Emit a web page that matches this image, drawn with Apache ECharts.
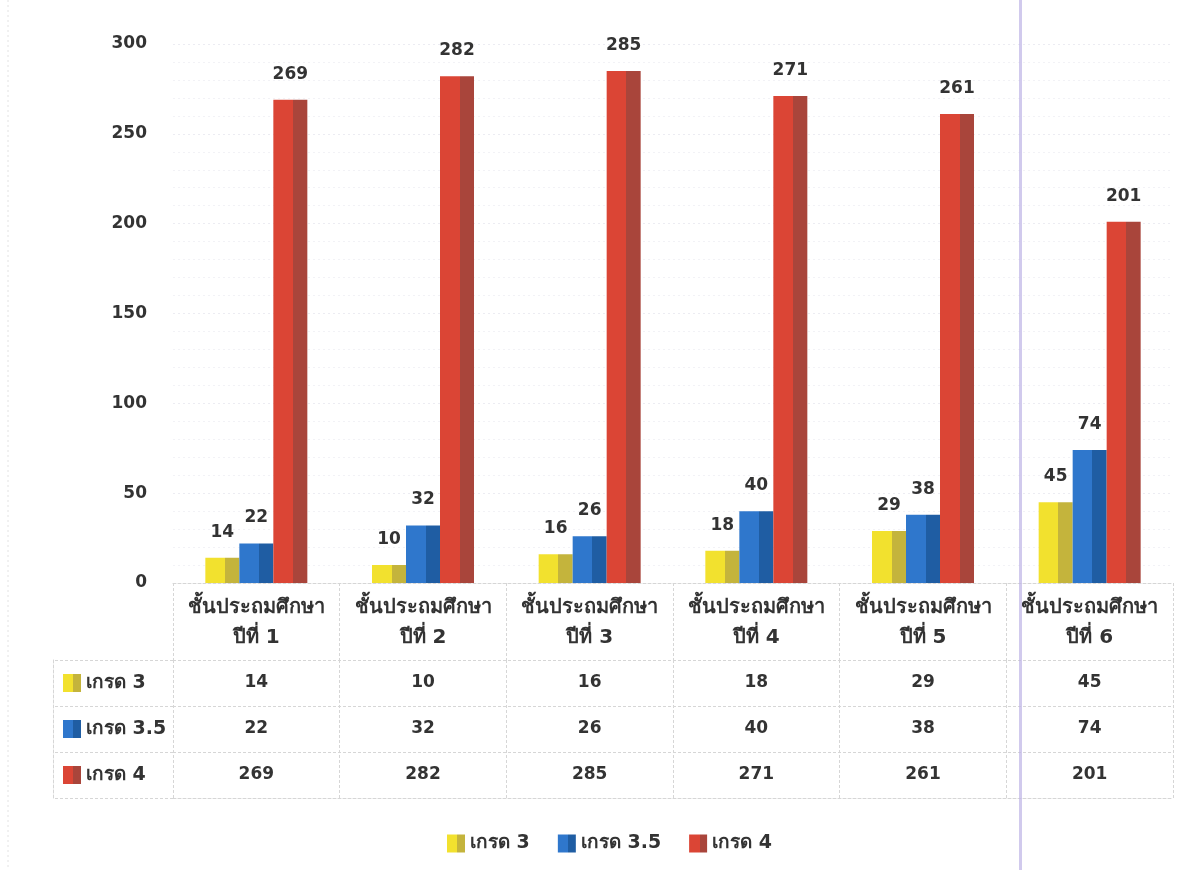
<!DOCTYPE html>
<html>
<head>
<meta charset="utf-8">
<title>grade chart</title>
<script src="https://cdn.jsdelivr.net/npm/echarts@6/dist/echarts.min.js"></script>
<style>
  html, body { margin: 0; padding: 0; background: #fff; }
  #main { width: 1191px; height: 870px; }
</style>
</head>
<body>
<div id="main"></div>
<script>
var categories = ['ชั้นประถมศึกษา\nปีที่ 1', 'ชั้นประถมศึกษา\nปีที่ 2', 'ชั้นประถมศึกษา\nปีที่ 3',
  'ชั้นประถมศึกษา\nปีที่ 4', 'ชั้นประถมศึกษา\nปีที่ 5', 'ชั้นประถมศึกษา\nปีที่ 6']
var seriesNames = ['เกรด 3', 'เกรด 3.5', 'เกรด 4']
var grade3 = [14, 10, 16, 18, 29, 45]
var grade35 = [22, 32, 26, 40, 38, 74]
var grade4 = [269, 282, 285, 271, 261, 201]
var yTicks = [0, 50, 100, 150, 200, 250, 300]

var FONT = '"DejaVu Sans", Tahoma, sans-serif'
var TXT = '#333'
var BORDER = '#d6d6d6'

// light face / dark side, to fake the 3d look
var faces = [
  ['#f2e12e', '#c4b43c'],
  ['#2f77cc', '#1f5da3'],
  ['#db4535', '#a9453b']
]
function faceColor (c) {
  return new echarts.graphic.LinearGradient(0, 0, 1, 0, [
    { offset: 0, color: c[0] },
    { offset: 0.58, color: c[0] },
    { offset: 0.58, color: c[1] },
    { offset: 1, color: c[1] }
  ])
}

var values = [grade3, grade35, grade4]
var series = []
values.forEach(function (vals, i) {
  series.push({
    name: seriesNames[i],
    type: 'bar',
    xAxisIndex: 0,
    yAxisIndex: 0,
    barWidth: 34,
    barGap: '0%',
    itemStyle: { color: faceColor(faces[i]) },
    label: {
      show: true,
      position: 'top',
      distance: 17,
      fontFamily: FONT,
      fontSize: 17,
      fontWeight: 'bold',
      color: TXT
    },
    data: vals
  })
})

// table cells
var cells = []
values.forEach(function (vals, r) {
  vals.forEach(function (v, c) {
    cells.push([c, r, v])
  })
})
series.push({
  type: 'scatter',
  xAxisIndex: 1,
  yAxisIndex: 1,
  symbolSize: 0,
  silent: true,
  itemStyle: { opacity: 1 },
  label: {
    show: true,
    position: 'inside',
    formatter: function (p) { return p.value[2] },
    fontFamily: FONT,
    fontSize: 17,
    fontWeight: 'bold',
    color: TXT,
    opacity: 1
  },
  data: cells
})

var rich = {}
faces.forEach(function (c, i) {
  rich['k' + i] = { width: 18, height: 18, backgroundColor: faceColor(c) }
})
rich.t = { fontFamily: FONT, fontSize: 19, fontWeight: 'bold', color: TXT, padding: [0, 0, 0, 5] }

var dashed = { color: BORDER, type: [3, 2], width: 1 }

var chart = echarts.init(document.getElementById('main'))
chart.setOption({
  backgroundColor: '#fff',
  animation: false,
  textStyle: { fontFamily: FONT },
  grid: [
    { left: 173, right: 18, top: 44, height: 539 },
    { left: 173, right: 18, top: 660, height: 138 }
  ],
  legend: {
    data: seriesNames,
    top: 829,
    left: 442,
    itemWidth: 18,
    itemHeight: 18,
    itemGap: 28,
    icon: 'rect',
    textStyle: { fontFamily: FONT, fontSize: 19, fontWeight: 'bold', color: TXT, padding: [0, 0, 0, 0] }
  },
  xAxis: [
    {
      type: 'category',
      gridIndex: 0,
      data: categories,
      axisLine: { show: true, lineStyle: dashed },
      axisTick: { show: true, length: 77, lineStyle: dashed },
      axisLabel: {
        margin: 10,
        fontFamily: FONT,
        fontSize: 20,
        fontWeight: 'bold',
        lineHeight: 30,
        color: TXT,
        interval: 0
      }
    },
    {
      type: 'category',
      gridIndex: 1,
      data: categories,
      axisLine: { show: true, lineStyle: dashed },
      axisTick: { show: false },
      axisLabel: { show: false },
      splitLine: { show: true, lineStyle: dashed }
    }
  ],
  yAxis: [
    {
      type: 'value',
      gridIndex: 0,
      min: 0,
      max: 300,
      interval: 50,
      axisLine: { show: false },
      axisTick: { show: false },
      axisLabel: {
        margin: 26,
        fontFamily: FONT,
        fontSize: 17,
        fontWeight: 'bold',
        color: TXT,
        formatter: function (v) { return yTicks.indexOf(v) >= 0 ? String(v) : '' }
      },
      splitLine: { show: true, lineStyle: { color: '#ececf2', type: [2, 3] } },
      minorTick: { show: false, splitNumber: 5 },
      minorSplitLine: { show: true, lineStyle: { color: '#f2f2f6', type: [2, 3] } }
    },
    {
      type: 'category',
      gridIndex: 1,
      inverse: true,
      data: seriesNames,
      axisLine: { show: false },
      axisTick: { show: true, length: 120, lineStyle: dashed },
      axisLabel: {
        align: 'left',
        margin: 110,
        formatter: function (v, i) { return '{k' + i + '|}{t|' + v + '}' },
        rich: rich
      },
      splitLine: { show: true, lineStyle: dashed }
    },
    {
      type: 'category',
      gridIndex: 1,
      position: 'left',
      offset: 120,
      data: seriesNames,
      axisLine: { show: true, lineStyle: dashed },
      axisTick: { show: false },
      axisLabel: { show: false }
    }
  ],
  graphic: [
    {
      type: 'rect',
      silent: true,
      z: 100,
      shape: { x: 1019, y: 0, width: 3, height: 870 },
      style: { fill: 'rgba(190,180,230,0.7)' }
    },
    {
      type: 'line',
      silent: true,
      shape: { x1: 8, y1: 0, x2: 8, y2: 870 },
      style: { stroke: '#e2e2e2', lineDash: [2, 3], lineWidth: 1 }
    }
  ],
  series: series
})
</script>
</body>
</html>
